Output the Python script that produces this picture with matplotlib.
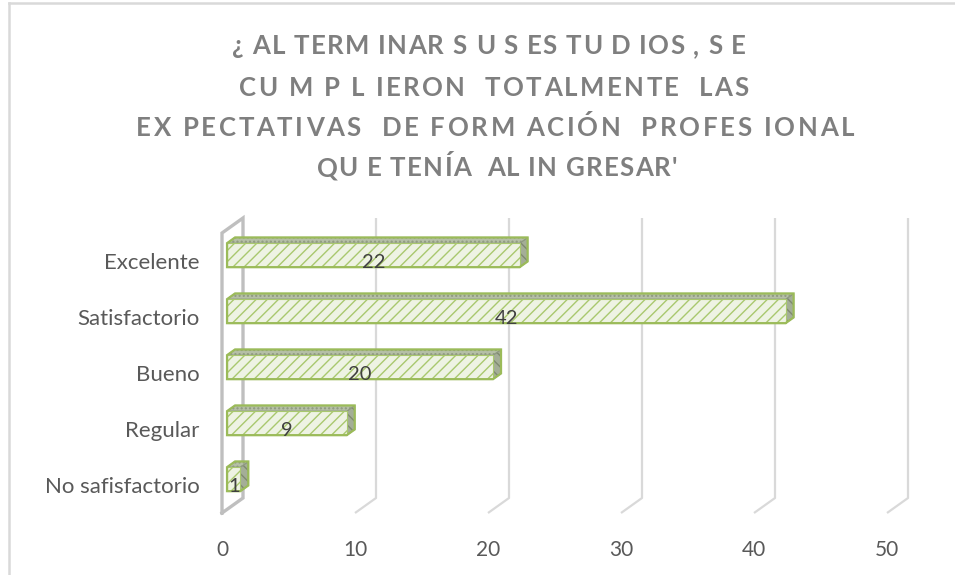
import numpy as np
import matplotlib.pyplot as plt
from matplotlib.patches import Polygon
from matplotlib.lines import Line2D
from matplotlib.font_manager import FontProperties

# Datos
categorias = ["No safisfactorio", "Regular", "Bueno", "Satisfactorio", "Excelente"]
valores = [1, 9, 20, 42, 22]
x_ticks = [0, 10, 20, 30, 40, 50]
titulo = ["¿ AL TERM INAR S U S ES TU D IOS , S E",
          "CU M P L IERON  TOTALMENTE  LAS",
          "EX PECTATIVAS  DE FORM ACIÓN  PROFES IONAL",
          "QU E TENÍA  AL IN GRESAR'"]

plt.rcParams['font.family'] = ['Lato', 'DejaVu Sans']
plt.rcParams['hatch.linewidth'] = 1.0

W, H = 955, 575
fig = plt.figure(figsize=(W / 100, H / 100), dpi=100)

# Plano frontal en pixeles
x0_px, x50_px = 222, 887
y_bot, y_top = 513, 233
ax = fig.add_axes([x0_px / W, (H - y_bot) / H, (x50_px - x0_px) / W, (y_bot - y_top) / H])
ax.set_xlim(0, 50)
ax.set_ylim(-0.5, 4.5)

kx = (x50_px - x0_px) / 50.0
ky = (y_bot - y_top) / 5.0
DX = 21 / kx      # profundidad 3D
DY = 15 / ky

grid_c = '#d9d9d9'
wall_c = '#bfbfbf'

# Rejilla (pared trasera + suelo)
for t in x_ticks[1:]:
    ax.plot([t, t + DX, t + DX], [-0.5, -0.5 + DY, 4.5 + DY], color=grid_c, lw=1.6,
            clip_on=False, zorder=1, solid_capstyle='butt')

# Pared izquierda
ax.plot([0, 0, DX, DX, 0], [-0.5, 4.5, 4.5 + DY, -0.5 + DY, -0.5], color=wall_c, lw=2.4,
        clip_on=False, zorder=1, solid_joinstyle='miter')

# Barras 3D
f0, f1 = 0.24, 0.62
h = 12 / ky
front_c = '#eef3e3'
green = '#9bbb59'
for i, v in enumerate(valores):
    c = i + 0.04
    ox0, oy0 = f0 * DX, f0 * DY
    ox1, oy1 = f1 * DX, f1 * DY
    lado = Polygon([(v + ox0, c - h + oy0), (v + ox1, c - h + oy1),
                    (v + ox1, c + h + oy1), (v + ox0, c + h + oy0)],
                   closed=True, facecolor='#a4ae97', edgecolor='#7f8a70', hatch='\\\\\\',
                   lw=0.8, clip_on=False, zorder=3)
    techo = Polygon([(ox0, c + h + oy0), (v + ox0, c + h + oy0),
                     (v + ox1, c + h + oy1), (ox1, c + h + oy1)],
                    closed=True, facecolor='#b5bfa6', edgecolor='#8f9a80', hatch='....',
                    lw=0.8, clip_on=False, zorder=3)
    frente = Polygon([(ox0, c - h + oy0), (v + ox0, c - h + oy0),
                      (v + ox0, c + h + oy0), (ox0, c + h + oy0)],
                     closed=True, facecolor=front_c, edgecolor='#a9c86e', hatch='///',
                     lw=0.8, clip_on=False, zorder=4)
    for p in (lado, techo, frente):
        ax.add_patch(p)
    # contorno verde
    ax.add_patch(Polygon([(ox0, c - h + oy0), (v + ox0, c - h + oy0), (v + ox1, c - h + oy1),
                          (v + ox1, c + h + oy1), (ox1, c + h + oy1), (ox0, c + h + oy0)],
                         closed=True, fill=False, edgecolor=green, lw=1.6, clip_on=False, zorder=5))
    ax.text(v / 2 + ox0, c + oy0 - 0.13, str(v), ha='center', va='center', fontsize=14.5,
            color='#404040', zorder=6)

# Ejes
ax.set_xticks(x_ticks)
ax.set_xticklabels([str(t) for t in x_ticks])
ax.set_yticks(range(len(categorias)))
ax.set_yticklabels(categorias)
ax.tick_params(axis='x', length=0, pad=19.5, labelsize=15, labelcolor='#595959')
ax.tick_params(axis='y', length=0, pad=16, labelsize=16, labelcolor='#595959')
for s in ax.spines.values():
    s.set_visible(False)
ax.set_facecolor('none')

# Titulo con espaciado entre letras (como en el original)
fp = FontProperties(family='Lato', weight='bold', size=18.5)
rend = fig.canvas.get_renderer()


def ancho(s):
    return rend.get_text_width_height_descent(s, fp, ismath=False)[0]


base = ancho('||')
# (centro, ancho, linea base) de cada renglon en pixeles
renglones = [(489, 514, 54), (494, 510, 96), (495, 718, 136), (497, 361, 176)]
for linea, (xc, wl, yb) in zip(titulo, renglones):
    avances = [ancho('|' + ch + '|') - base for ch in linea]
    espacio = (wl - sum(avances)) / (len(linea) - 1)
    x = xc - wl / 2
    for ch, a in zip(linea, avances):
        fig.text(x / W, 1 - yb / H, ch, fontproperties=fp, ha='left', va='baseline',
                 color='#7f7f7f')
        x += a + espacio

# Borde del grafico
fig.add_artist(Line2D([9 / W, 9 / W], [0, 1 - 3 / H], color='#d9d9d9', lw=1.8))
fig.add_artist(Line2D([9 / W, 1], [1 - 3 / H, 1 - 3 / H], color='#d9d9d9', lw=1.8))

fig.savefig('out.png', dpi=100)
